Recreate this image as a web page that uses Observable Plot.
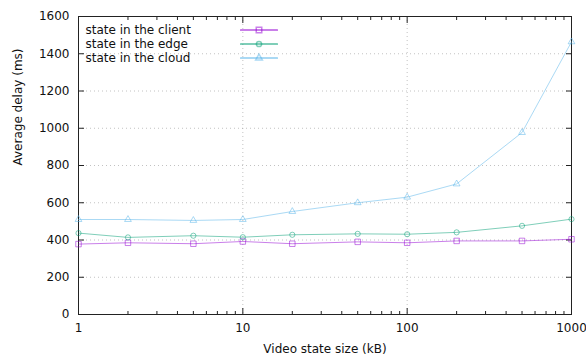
<!DOCTYPE html>
<html>
<head>
<meta charset="utf-8">
<script src="https://cdn.jsdelivr.net/npm/d3@7"></script>
<script src="https://cdn.jsdelivr.net/npm/@observablehq/plot@0.6"></script>
<style>
  html, body { margin: 0; padding: 0; background: #fff; }
  #chart svg { display: block; }
</style>
</head>
<body>
<div id="chart"></div>
<script>
const sizes = [1, 2, 5, 10, 20, 50, 100, 200, 500, 1000];
const clientDelay = [378, 385, 380, 392, 380, 390, 385, 395, 395, 404];
const edgeDelay   = [437, 414, 423, 415, 428, 433, 431, 441, 476, 512];
const cloudDelay  = [510, 510, 505, 510, 553, 600, 630, 701, 977, 1464];

const seriesNames = ["state in the client", "state in the edge", "state in the cloud"];
const seriesColors = ["#9400d3", "#009e73", "#56b4e9"];
const seriesSymbols = ["square", "circle", "triangle"];
const symbolRadius = [3.1, 2.6, 2.5];
const seriesValues = [clientDelay, edgeDelay, cloudDelay];

const xTickLabels = [1, 10, 100, 1000];
const xMinorTicks = [2,3,4,5,6,7,8,9,20,30,40,50,60,70,80,90,200,300,400,500,600,700,800,900];
const yTickLabels = [0, 200, 400, 600, 800, 1000, 1200, 1400, 1600];

const rows = [];
seriesNames.forEach((name, s) => {
  sizes.forEach((x, i) => rows.push({series: name, x, y: seriesValues[s][i]}));
});

const marks = [
  Plot.gridY(yTickLabels.slice(1, -1), {stroke: "#999", strokeOpacity: 0.6, strokeDasharray: "1,3"}),
  Plot.gridX(xTickLabels.slice(1, -1), {stroke: "#999", strokeOpacity: 0.6, strokeDasharray: "1,3"}),
  // tick labels
  Plot.axisX(xTickLabels, {anchor: "bottom", tickSize: 0, tickPadding: 9, tickFormat: d => String(d), label: null}),
  Plot.axisY(yTickLabels, {anchor: "left", tickSize: 0, tickPadding: 9, tickFormat: d => String(d), label: null}),
  // inward ticks
  Plot.axisX(xTickLabels, {anchor: "bottom", tickSize: -6, text: null, label: null, stroke: "#222"}),
  Plot.axisX(xTickLabels, {anchor: "top", tickSize: -6, text: null, label: null, stroke: "#222"}),
  Plot.axisX(xMinorTicks, {anchor: "bottom", tickSize: -3, text: null, label: null, stroke: "#222"}),
  Plot.axisX(xMinorTicks, {anchor: "top", tickSize: -3, text: null, label: null, stroke: "#222"}),
  Plot.axisY(yTickLabels, {anchor: "left", tickSize: -6, text: null, label: null, stroke: "#222"}),
  Plot.axisY(yTickLabels, {anchor: "right", tickSize: -6, text: null, label: null, stroke: "#222"}),
  Plot.frame({stroke: "#222"}),
  // axis titles
  Plot.text(["Video state size (kB)"], {frameAnchor: "bottom", lineAnchor: "middle", dy: 35, text: d => d, fill: "#111"}),
  Plot.text(["Average delay (ms)"], {frameAnchor: "left", dx: -60, rotate: -90, text: d => d, fill: "#111"})
];

seriesNames.forEach((name, s) => {
  const data = rows.filter(d => d.series === name);
  marks.push(
    Plot.line(data, {x: "x", y: "y", stroke: seriesColors[s], strokeOpacity: 0.5, strokeWidth: 1}),
    Plot.dot(data, {x: "x", y: "y", symbol: seriesSymbols[s], stroke: seriesColors[s], strokeOpacity: 0.5, fill: "none", r: symbolRadius[s], strokeWidth: 1})
  );
  // legend entries
  const dy = 13.5 + 14 * s;
  marks.push(
    Plot.text([name], {frameAnchor: "top-left", lineAnchor: "middle", dx: 7, dy, text: d => d, textAnchor: "start", fill: "#111"}),
    Plot.vector([name], {frameAnchor: "top-left", dx: 162, dy, length: 37, rotate: 90, anchor: "start",
      shape: {draw(context, l) { context.moveTo(0, 0); context.lineTo(0, -l); }},
      stroke: seriesColors[s], strokeWidth: 1.2}),
    Plot.dot([name], {frameAnchor: "top-left", dx: 180.5, dy, symbol: seriesSymbols[s], stroke: seriesColors[s], strokeOpacity: 0.5, fill: "none", r: symbolRadius[s]})
  );
});

const chart = Plot.plot({
  width: 586,
  height: 358,
  marginLeft: 78,
  marginRight: 15,
  marginTop: 16,
  marginBottom: 44,
  style: {fontFamily: "DejaVu Sans", fontSize: "12px", color: "#111", background: "#fff"},
  x: {type: "log", domain: [1, 1000]},
  y: {domain: [0, 1600]},
  marks
});
document.getElementById("chart").appendChild(chart);
</script>
</body>
</html>
